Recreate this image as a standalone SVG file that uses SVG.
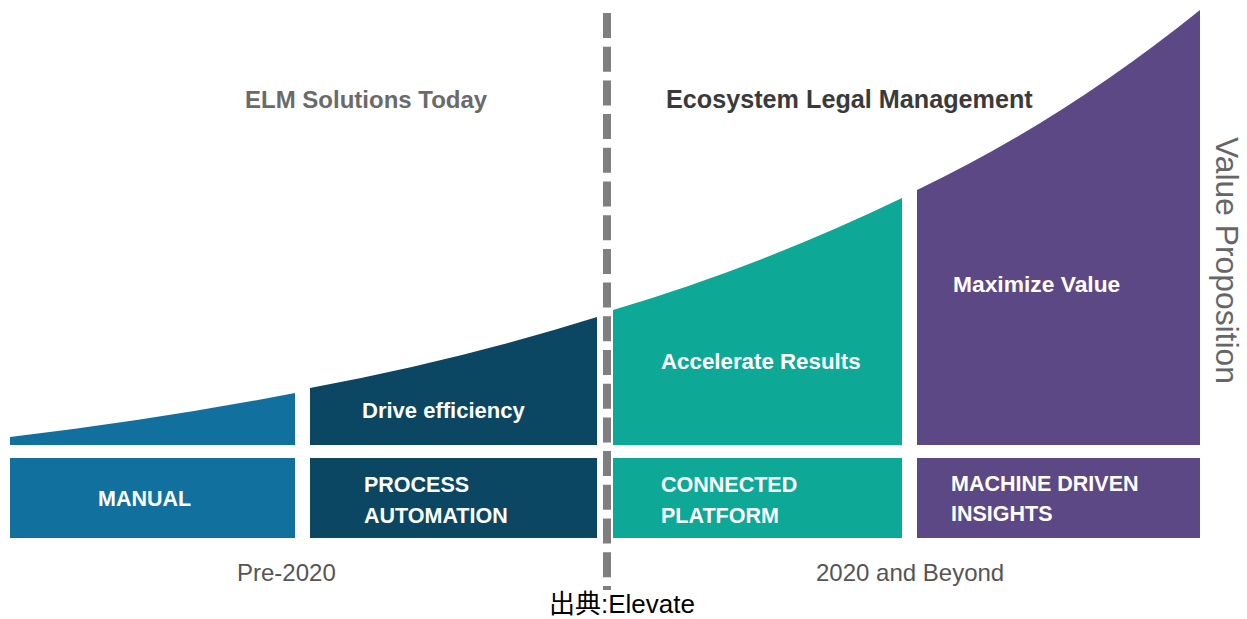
<svg xmlns="http://www.w3.org/2000/svg" width="1247" height="619" viewBox="0 0 1247 619">
<style>
.lbl{font-family:"Liberation Sans",Arial,sans-serif;font-weight:bold;fill:#ffffff;font-size:22px}
.cap{font-family:"Liberation Sans",Arial,sans-serif;font-weight:bold;fill:#ffffff;font-size:21.5px}
.head{font-family:"Liberation Sans",Arial,sans-serif;font-weight:bold;font-size:24px}
.era{font-family:"Liberation Sans",Arial,sans-serif;fill:#555555;font-size:24px}
.blue{fill:#12709f}.navy{fill:#0b4762}.teal{fill:#0ea897}.purple{fill:#5d4886}
</style>
<rect width="1247" height="619" fill="#ffffff"/>
<g id="headings">
<text class="head" x="245" y="108" fill="#6a6a6a">ELM Solutions Today</text>
<text class="head" x="666" y="108" fill="#3a3a3a" style="font-size:25.2px">Ecosystem Legal Management</text>
</g>
<g id="manual">
<path class="blue" d="M10,437 Q155,420 295,393 L295,445 L10,445 Z"/>
<rect class="blue" x="10" y="458" width="285" height="80"/>
<text class="cap" x="98" y="506">MANUAL</text>
</g>
<g id="process-automation">
<path class="navy" d="M310,388 Q460,360 597,317 L597,445 L310,445 Z"/>
<rect class="navy" x="310" y="458" width="287" height="80"/>
<text class="lbl" x="362" y="418">Drive efficiency</text>
<text class="cap" x="364" y="492">PROCESS</text>
<text class="cap" x="364" y="523">AUTOMATION</text>
</g>
<g id="connected-platform">
<path class="teal" d="M613,310 Q761,266 902,198 L902,445 L613,445 Z"/>
<rect class="teal" x="613" y="458" width="289" height="80"/>
<text class="lbl" x="661" y="369" style="font-size:22.3px">Accelerate Results</text>
<text class="cap" x="661" y="492">CONNECTED</text>
<text class="cap" x="661" y="523">PLATFORM</text>
</g>
<g id="machine-driven">
<path class="purple" d="M917,190 Q1062,121 1200,10 L1200,445 L917,445 Z"/>
<rect class="purple" x="917" y="458" width="283" height="80"/>
<text class="lbl" x="953" y="292" style="font-size:22.8px">Maximize Value</text>
<text class="cap" x="951" y="491">MACHINE DRIVEN</text>
<text class="cap" x="951" y="521">INSIGHTS</text>
</g>
<g id="connectors">
<line x1="607" y1="13" x2="607" y2="590" stroke="#7f7f7f" stroke-width="8" stroke-dasharray="25 8.7"/>
</g>
<g id="axis-labels">
<text class="era" x="237" y="581">Pre-2020</text>
<text class="era" x="816" y="581">2020 and Beyond</text>
<text font-family="'Liberation Sans',Arial,sans-serif" font-size="31.8" fill="#666666" transform="translate(1216,137) rotate(90)">Value Proposition</text>
</g>
<text x="549" y="613" font-family="'Liberation Sans','Noto Sans CJK JP',sans-serif" font-size="26" fill="#000000">出典:Elevate</text>
</svg>
